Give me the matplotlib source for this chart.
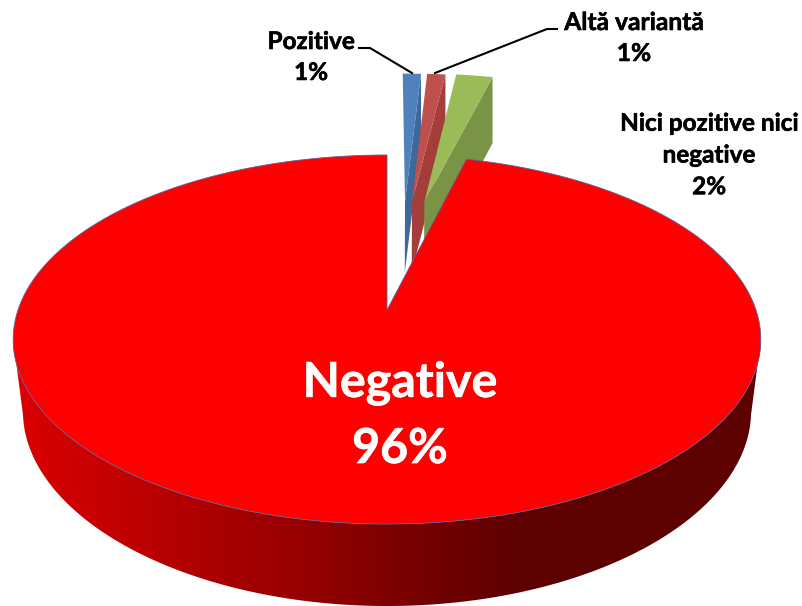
import numpy as np
import matplotlib
matplotlib.use("Agg")
import matplotlib.pyplot as plt
import matplotlib.patheffects as pe
from matplotlib.patches import Polygon

# slice names and shares (%)
names = ["Pozitive", "Altă variantă", "Nici pozitive nici\nnegative", "Negative"]
values = [1, 1, 2, 96]

colors = ["#4f81bd", "#c0504d", "#9bbb59", "#ff0000"]
dark_colors = ["#3d689c", "#a33e3b", "#7a9445", "#ff0000"]
# how far each slice is pulled out of the pie, in pie coordinates
explode_u = [0.054, 0.075, 0.112, 0.0]
explode_v = [0.665, 0.665, 0.665, 0.0]

# label centre and font size
label_pos = [(311, 57), (634, 38), (709, 155), (400, 416)]
label_size = [17.5, 17.7, 17.5, 34.8]
label_color = ["black", "black", "black", "white"]
line_gap = [1.42, 1.42, 1.46, 1.6]

# fake perspective of the tilted 3D pie
CX, CY = 387, 310
RX, RY, K = 369, 179.8, 0.16


def top(u, v):
    w = 1 + K * v
    return CX + RX * u / w, CY - RY * v / w


def base(x, y):
    s = 1 - 0.0001 * (y - 77)
    return CX + (x - CX) * s, y + 63.2 + 0.0358 * y


def arc(a1, a2, du=0.0, dv=0.0, n=300):
    t = np.radians(np.linspace(a1, a2, n))
    return top(np.sin(t) + du, np.cos(t) + dv)


fig = plt.figure(figsize=(8.03, 6.06), dpi=100)
ax = fig.add_axes([0, 0, 1, 1])
ax.set_xlim(0, 803)
ax.set_ylim(606, 0)
ax.axis("off")

edges = np.cumsum([0] + values) * 3.6

# small exploded slices first, the big one hides their lower part
for i in range(3):
    a1, a2 = edges[i], edges[i + 1]
    du, dv = explode_u[i], explode_v[i]
    ax_, ay_ = top(du, dv)
    x, y = arc(a1, a2, du, dv)
    bx, by = base(x[-1], y[-1])
    bax, bay = base(ax_, ay_)
    wall = [(ax_, ay_), (x[-1], y[-1]), (bx, by), (bax, bay)]
    ax.add_patch(Polygon(wall, closed=True, fc=dark_colors[i], ec="none", zorder=2 + i))
    face = [(ax_, ay_)] + list(zip(x, y))
    ax.add_patch(Polygon(face, closed=True, fc=colors[i], ec="none", zorder=2 + i))

# front wall of the big slice with its dark gradient
lim = np.degrees(np.arccos(-K))
x, y = arc(lim, 360 - lim)
bx, by = base(x, y)
wall = Polygon(np.column_stack([np.r_[x, bx[::-1]], np.r_[y, by[::-1]]]),
               closed=True, fc="none", ec="none", zorder=6)
ax.add_patch(wall)
grad_x = np.arange(0, 803)
red = np.interp(grad_x, [20, 300, 520], [218, 150, 92])
grad = np.zeros((1, len(grad_x), 3))
grad[0, :, 0] = red / 255
im = ax.imshow(grad, extent=(0, 803, 606, 0), aspect="auto", zorder=6)
im.set_clip_path(wall)
ax.set_xlim(0, 803)
ax.set_ylim(606, 0)

# top face of the big slice
x, y = arc(edges[3], 360, n=800)
face = [(CX, CY)] + list(zip(x, y))
ax.add_patch(Polygon(face, closed=True, fc=colors[3], ec="#5f5f9f", lw=0.6, zorder=7))

# leader lines
ax.plot([359, 370, 412], [48, 48, 73], color="black", lw=1.5, zorder=8)
ax.plot([557, 547, 435], [29, 29, 73], color="black", lw=1.5, zorder=8)

for name, val, pos, size, col, gap in zip(names, values, label_pos, label_size, label_color, line_gap):
    t = ax.text(pos[0], pos[1], f"{name}\n{val}%", ha="center", va="center", ma="center",
                fontsize=size, fontweight="bold", family="Lato", color=col,
                linespacing=gap, zorder=9)
    t.set_path_effects([pe.withStroke(linewidth=0.4, foreground=col)])

fig.savefig("out.png", dpi=100)
